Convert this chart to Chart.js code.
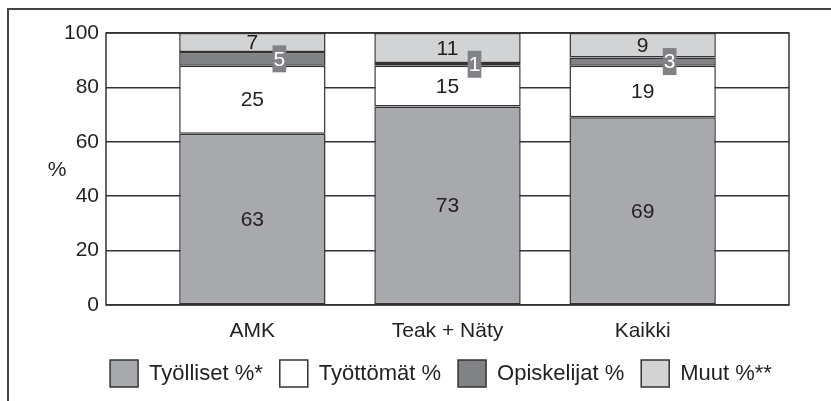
<!DOCTYPE html>
<html>
<head>
<meta charset="utf-8">
<script src="https://cdn.jsdelivr.net/npm/chart.js@4"></script>
<style>
  body { margin: 0; background: #fff; }
  #wrap { position: relative; width: 831px; height: 401px; overflow: hidden; }
  #frame { position: absolute; left: 7px; top: 8px; width: 900px; height: 500px;
           border-left: 2px solid #444; border-top: 2px solid #444; }
  canvas { position: absolute; left: 0; top: 0; }
</style>
</head>
<body>
<div id="wrap">
  <div id="frame"></div>
  <canvas id="chart" width="831" height="401"></canvas>
</div>
<script>
// values (percent of each group)
const categories = ['AMK', 'Teak + Näty', 'Kaikki'];
const tyolliset = [63, 73, 69];
const tyottomat = [25, 15, 19];
const opiskelijat = [5, 1, 3];
const muut = [7, 11, 9];
const seriesNames = ['Työlliset %*', 'Työttömät %', 'Opiskelijat %', 'Muut %**'];
const yTicks = [0, 20, 40, 60, 80, 100];

const INK = '#231f20';
const LINE = '#333';
const FONT = '"Liberation Sans", Arial, sans-serif';
const SIZE = 21;

Chart.defaults.font.family = FONT;
Chart.defaults.font.size = SIZE;
Chart.defaults.color = INK;

function series(values) {
    return values.map((v, i) => ({x: i, y: v}));
}

function makeSet(label, values, color, tagged) {
    return {
        label: label,
        data: series(values),
        backgroundColor: color,
        borderColor: LINE,
        borderWidth: 1.5,
        borderSkipped: false,
        tagged: tagged
    };
}

// frame around the plot area (under the bars) and the "%" axis note
const plotFrame = {
    id: 'plotFrame',
    beforeDatasetsDraw(chart) {
        const a = chart.chartArea;
        const ctx = chart.ctx;
        ctx.save();
        ctx.strokeStyle = LINE;
        ctx.lineWidth = 1.5;
        ctx.strokeRect(a.left, a.top, a.right - a.left, a.bottom - a.top);
        ctx.restore();
    },
    afterDraw(chart) {
        const a = chart.chartArea;
        const ctx = chart.ctx;
        ctx.save();
        ctx.fillStyle = INK;
        ctx.font = SIZE + 'px ' + FONT;
        ctx.textAlign = 'center';
        ctx.textBaseline = 'middle';
        ctx.fillText('%', 57, (a.top + a.bottom) / 2 + 1);
        ctx.restore();
    }
};

// numbers inside the segments; the small "Opiskelijat" values get a tag beside the middle
const segmentLabels = {
    id: 'segmentLabels',
    afterDatasetsDraw(chart) {
        const ctx = chart.ctx;
        ctx.save();
        ctx.font = SIZE + 'px ' + FONT;
        ctx.textAlign = 'center';
        ctx.textBaseline = 'middle';
        chart.data.datasets.forEach((ds, di) => {
            const meta = chart.getDatasetMeta(di);
            meta.data.forEach((bar, i) => {
                const text = String(ds.data[i].y);
                const y = (bar.y + bar.base) / 2;
                if (ds.tagged) {
                    const x = bar.x + 27;
                    const w = ctx.measureText(text).width + 2;
                    ctx.fillStyle = ds.backgroundColor;
                    ctx.fillRect(x - w / 2, y - 13.5, w, 27);
                    ctx.fillStyle = '#fff';
                    ctx.fillText(text, x, y + 1);
                } else {
                    ctx.fillStyle = INK;
                    ctx.fillText(text, bar.x, y + 1);
                }
            });
        });
        ctx.restore();
    }
};

new Chart(document.getElementById('chart'), {
    type: 'bar',
    data: {
        datasets: [
            makeSet(seriesNames[0], tyolliset, '#a7a9ac', false),
            makeSet(seriesNames[1], tyottomat, '#ffffff', false),
            makeSet(seriesNames[2], opiskelijat, '#808285', true),
            makeSet(seriesNames[3], muut, '#d1d3d4', false)
        ]
    },
    options: {
        responsive: false,
        animation: false,
        categoryPercentage: 0.75,
        barPercentage: 1,
        layout: {padding: {left: 51, right: 0, top: 33, bottom: 4}},
        plugins: {
            tooltip: {enabled: false},
            legend: {
                position: 'bottom',
                labels: {
                    boxWidth: 28,
                    boxHeight: 27,
                    padding: 17,
                    color: INK,
                    font: {size: 22}
                }
            }
        },
        scales: {
            x: {
                type: 'linear',
                stacked: true,
                offset: false,
                min: -0.75,
                max: 2.75,
                grid: {display: false},
                border: {display: false},
                afterBuildTicks: axis => { axis.ticks = categories.map((c, i) => ({value: i})); },
                afterFit: axis => { axis.height = 38; },
                ticks: {
                    padding: 6,
                    maxRotation: 0,
                    autoSkip: false,
                    callback: value => categories[value]
                }
            },
            y: {
                stacked: true,
                min: 0,
                max: 100,
                border: {display: false},
                grid: {color: LINE, lineWidth: 1.5, drawTicks: false},
                afterBuildTicks: axis => { axis.ticks = yTicks.map(v => ({value: v})); },
                afterFit: axis => { axis.width = 55; },
                ticks: {padding: 7}
            },
            // empty box on the right so the plot ends where the original does
            spacer: {
                type: 'linear',
                position: 'right',
                grid: {display: false},
                border: {display: false},
                ticks: {display: false},
                afterFit: axis => { axis.width = 42; }
            }
        }
    },
    plugins: [plotFrame, segmentLabels]
});
</script>
</body>
</html>
